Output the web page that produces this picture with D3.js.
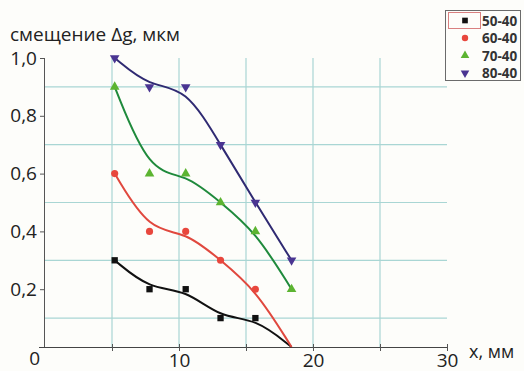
<!DOCTYPE html>
<html>
<head>
<meta charset="utf-8">
<script src="https://cdn.jsdelivr.net/npm/d3@7"></script>
<style>
  html, body { margin: 0; padding: 0; background: #fdfdfa; }
  svg { display: block; }
  text { font-family: "Open Sans", "Noto Sans", sans-serif; }
</style>
</head>
<body>
<svg id="chart" width="524" height="371"></svg>
<script>
// Measurement positions, mm
const xValues = [5.2, 7.8, 10.5, 13.1, 15.7, 18.4];

// Displacement Δg, µm, for each temperature pair
const series5040 = [0.3, 0.2, 0.2, 0.1, 0.1, 0.0];
const series6040 = [0.6, 0.4, 0.4, 0.3, 0.2, 0.0];
const series7040 = [0.9, 0.6, 0.6, 0.5, 0.4, 0.2];
const series8040 = [1.0, 0.9, 0.9, 0.7, 0.5, 0.3];

const seriesNames = ["50-40", "60-40", "70-40", "80-40"];

const yTickValues = [0, 0.2, 0.4, 0.6, 0.8, 1.0];
const yTickLabels = ["0", "0,2", "0,4", "0,6", "0,8", "1,0"];
const xTickValues = [10, 20, 30];
const xTickLabels = ["10", "20", "30"];

const seriesStyle = [
  { values: series5040, line: "#111111", mark: "#111111", symbol: d3.symbolSquare, rot: 0, size: 40 },
  { values: series6040, line: "#e0483e", mark: "#e8473d", symbol: d3.symbolCircle, rot: 0, size: 40 },
  { values: series7040, line: "#1f8a3c", mark: "#5cb431", symbol: d3.symbolTriangle, rot: 0, size: 40 },
  { values: series8040, line: "#2f2a72", mark: "#4a3592", symbol: d3.symbolTriangle, rot: 180, size: 40 }
];

const svg = d3.select("#chart");
const x = d3.scaleLinear().domain([0, 30]).range([45, 447]);
const y = d3.scaleLinear().domain([0, 1]).range([347, 58]);

const gridColor = "#a9d6d4";

// Grid: vertical every 5 mm, horizontal at the odd tenths
const grid = svg.append("g");
grid.selectAll("line.v").data([5, 10, 15, 20, 25]).join("line")
  .attr("x1", d => x(d)).attr("x2", d => x(d))
  .attr("y1", y(1.0)).attr("y2", y(0))
  .attr("stroke", gridColor).attr("stroke-width", 1.2);
grid.selectAll("line.h").data([0.1, 0.3, 0.5, 0.7, 0.9]).join("line")
  .attr("x1", x(0)).attr("x2", x(30))
  .attr("y1", d => y(d)).attr("y2", d => y(d))
  .attr("stroke", gridColor).attr("stroke-width", 1.2);

// Axes
const yAxis = d3.axisLeft(y).tickValues(yTickValues.slice(1))
  .tickFormat(d => yTickLabels[yTickValues.indexOf(d)]).tickSize(5).tickPadding(3);
const gy = svg.append("g").attr("transform", `translate(${x(0)},0)`).call(yAxis);
gy.select(".domain").attr("stroke", "#555").attr("d", `M-0.5,${y(1.0)}V${y(0)}`);
gy.selectAll(".tick line").attr("stroke", "#555");
gy.selectAll(".tick text").attr("font-size", 19).attr("fill", "#222")
  .attr("font-family", "'Open Sans', sans-serif");

const xAxis = d3.axisBottom(x).tickValues([5, 10, 15, 20, 25, 30])
  .tickFormat(d => { const i = xTickValues.indexOf(d); return i >= 0 ? xTickLabels[i] : ""; })
  .tickSize(4).tickPadding(2);
const gx = svg.append("g").attr("transform", `translate(0,${y(0)})`).call(xAxis);
gx.select(".domain").attr("stroke", "#444").attr("stroke-width", 1.2).attr("d", `M${x(0) - 6},0.5H${x(30)}`);
gx.selectAll(".tick line").attr("stroke", "#555").attr("y1", -3);
gx.selectAll(".tick text").attr("font-size", 19).attr("fill", "#222")
  .attr("font-family", "'Open Sans', sans-serif");

// Origin label
svg.append("text").attr("x", 40).attr("y", 365).attr("text-anchor", "end")
  .attr("font-size", 19).attr("fill", "#222").text(yTickLabels[0]);

// Axis titles
svg.append("text").attr("x", 10).attr("y", 41)
  .attr("font-size", 19).attr("fill", "#222").text("смещение Δg, мкм");
svg.append("text").attr("x", 469).attr("y", 358)
  .attr("font-size", 18).attr("fill", "#222").text("x, мм");

// Smoothed curves
const line = d3.line()
  .x((d, i) => x(xValues[i]))
  .y(d => y(d))
  .curve(d3.curveBasis);

const plot = svg.append("g");
seriesStyle.forEach(s => {
  plot.append("path").datum(s.values)
    .attr("d", line)
    .attr("fill", "none")
    .attr("stroke", s.line)
    .attr("stroke-width", 2);
});

// Markers
seriesStyle.forEach(s => {
  plot.append("g").selectAll("path")
    .data(s.values.map((v, i) => [xValues[i], v]).filter(d => d[1] > 0))
    .join("path")
    .attr("d", d3.symbol().type(s.symbol).size(s.size))
    .attr("transform", d => `translate(${x(d[0])},${y(d[1])}) rotate(${s.rot})`)
    .attr("fill", s.mark);
});

// Legend
const lg = svg.append("g").attr("transform", "translate(445,10)");
lg.append("rect").attr("x", 0.5).attr("y", 0.5).attr("width", 75).attr("height", 70)
  .attr("fill", "#fdfdfa").attr("stroke", "#6b6b6b").attr("stroke-width", 1);
lg.append("rect").attr("x", 3.5).attr("y", 2.5).attr("width", 32).attr("height", 16)
  .attr("fill", "none").attr("stroke", "#d98080").attr("stroke-width", 1);
seriesStyle.forEach((s, i) => {
  const cy = 10.5 + i * 17.5;
  lg.append("path")
    .attr("d", d3.symbol().type(s.symbol).size(s.size * 0.8))
    .attr("transform", `translate(20,${cy}) rotate(${s.rot})`)
    .attr("fill", s.mark);
  lg.append("text").attr("x", 37).attr("y", cy + 5)
    .attr("font-size", 13.5).attr("font-weight", "bold").attr("fill", "#333")
    .attr("font-family", "'Liberation Sans', Arial, sans-serif")
    .text(seriesNames[i]);
});
</script>
</body>
</html>
